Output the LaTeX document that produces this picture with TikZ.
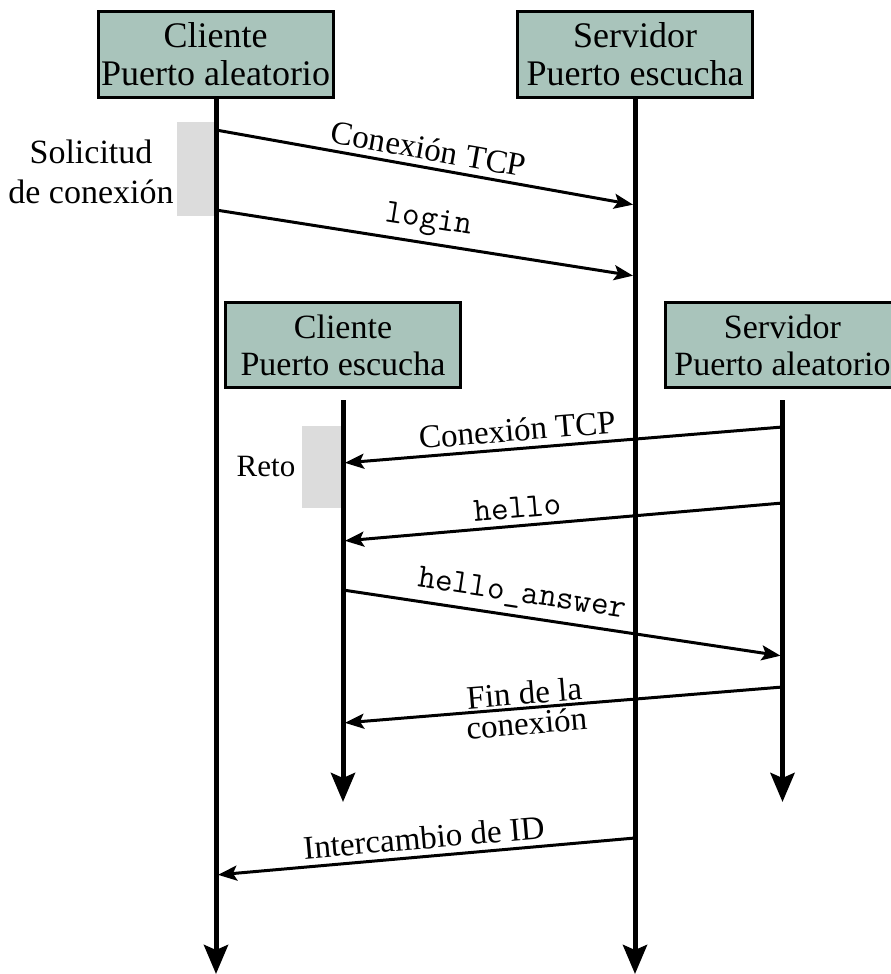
\documentclass[tikz,border=0pt]{standalone}
\usepackage{fontspec}
\setmainfont{Liberation Serif}
\usetikzlibrary{arrows.meta}

\definecolor{boxfill}{RGB}{169,196,187}
\definecolor{busy}{RGB}{220,220,220}

\tikzset{
  party/.style={draw=black, line width=3pt, fill=boxfill, minimum width=235pt,
    minimum height=85pt, inner sep=0pt, align=center,
    font=\fontsize{34}{37}\selectfont},
  bigparty/.style={party, font=\fontsize{36}{38}\selectfont},
  lifeline/.style={line width=5pt, -{Stealth[length=29pt, width=24pt, inset=5pt]}},
  msg/.style={line width=3pt, -{Stealth[length=19pt, width=15pt, inset=4pt]},
    shorten >=2pt},
  msglabel/.style={sloped, font=\fontsize{33}{30}\selectfont, inner sep=6pt},
  codelabel/.style={msglabel, font=\fontsize{34}{30}\selectfont\ttfamily},
  busybox/.style={fill=busy, draw=none},
  side/.style={align=center, font=\fontsize{34}{40}\selectfont}
}

\begin{document}
\begin{tikzpicture}[x=1pt, y=-1pt]
  \clip (0,0) rectangle (891,974);

  % participants
  \node[bigparty] (cA) at (215.5,54.5) {Cliente\\Puerto aleatorio};
  \node[bigparty] (sA) at (635,54.5) {Servidor\\Puerto escucha};
  \node[party] (cB) at (343,345) {Cliente\\Puerto escucha};
  \node[party] (sB) at (782.5,345) {Servidor\\Puerto aleatorio};

  % activity bars
  \fill[busybox] (177,122) rectangle (214,216);
  \fill[busybox] (302,426) rectangle (341,508);

  \node[side] (solic) at (91,172) {Solicitud\\de conexión};
  \node[side, font=\fontsize{31}{34}\selectfont] (reto) at (266,466) {Reto};

  % lifeline ends
  \coordinate (cAend) at (216,974);
  \coordinate (sAend) at (635,974);
  \coordinate (cBtop) at (343,400);
  \coordinate (cBend) at (343,802);
  \coordinate (sBtop) at (782.5,400);
  \coordinate (sBend) at (782.5,802);

  \draw[lifeline] (cA.south -| cAend) -- (cAend);
  \draw[lifeline] (sA.south -| sAend) -- (sAend);
  \draw[lifeline] (cBtop) -- (cBend);
  \draw[lifeline] (sBtop) -- (sBend);

  % message end points
  \coordinate (m1s) at (216,130);   \coordinate (m1e) at (635,205);
  \coordinate (m2s) at (216,210);   \coordinate (m2e) at (635,276);
  \coordinate (m3s) at (782.5,427); \coordinate (m3e) at (343,463);
  \coordinate (m4s) at (782.5,503); \coordinate (m4e) at (343,541);
  \coordinate (m5s) at (343,590);   \coordinate (m5e) at (782.5,656);
  \coordinate (m6s) at (782.5,687); \coordinate (m6e) at (343,723);
  \coordinate (m7s) at (635,838);   \coordinate (m7e) at (216,875);

  % messages
  \draw[msg] (m1s) -- node[msglabel, above] (l1) {Conexión TCP} (m1e);
  \draw[msg] (m2s) -- node[codelabel, above] (l2) {login} (m2e);
  \draw[msg] (m3s) -- node[msglabel, above, pos=0.6] (l3) {Conexión TCP} (m3e);
  \draw[msg] (m4s) -- node[codelabel, above, pos=0.6] (l4) {hello} (m4e);
  \draw[msg] (m5s) -- node[codelabel, above, pos=0.4] (l5) {hello\_answer} (m5e);
  \draw[msg] (m6s) -- node[msglabel, inner sep=2pt, align=center, pos=0.585] (l6)
    {Fin de la\\conexión} (m6e);
  \draw[msg] (m7s) -- node[msglabel, above] (l7) {Intercambio de ID} (m7e);
\end{tikzpicture}
\end{document}
